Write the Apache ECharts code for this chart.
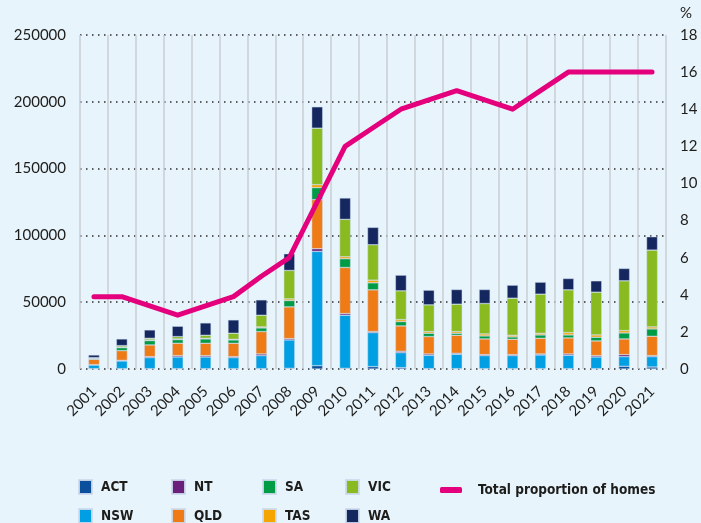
<!DOCTYPE html>
<html>
<head>
<meta charset="utf-8">
<script src="https://cdn.jsdelivr.net/npm/echarts@6/dist/echarts.min.js"></script>
<style>
  html, body { margin: 0; padding: 0; background: #e8f4fc; }
  #chart { width: 701px; height: 523px; }
</style>
</head>
<body>
<div id="chart"></div>
<script>
// data
const years = ['2001','2002','2003','2004','2005','2006','2007','2008','2009','2010','2011',
  '2012','2013','2014','2015','2016','2017','2018','2019','2020','2021'];
const act = [250, 250, 250, 250, 250, 250, 250, 500, 2500, 500, 1750, 1000, 250, 250, 250, 250, 250, 250, 250, 2000, 1500];
const nsw = [2750, 5750, 8250, 8750, 8750, 8250, 9750, 21250, 85500, 39750, 25500, 11250, 10000, 10750, 9750, 9750, 10250, 10000, 8750, 7250, 7750];
const nt = [250, 500, 750, 1000, 1000, 750, 1250, 1000, 2000, 1250, 750, 1000, 1000, 750, 750, 750, 750, 1000, 1000, 1500, 750];
const qld = [4000, 7250, 8750, 9250, 9250, 10000, 16750, 23750, 36750, 34500, 31250, 19000, 13000, 13500, 11750, 11500, 11750, 12000, 11000, 11750, 14500];
const sa = [500, 2250, 3250, 2750, 3250, 2500, 2750, 4750, 9000, 6500, 5250, 3250, 2500, 1500, 2250, 1750, 2500, 2250, 2750, 4500, 5500];
const tas = [250, 500, 500, 500, 500, 500, 750, 1250, 2250, 1500, 2000, 1500, 1250, 1250, 1500, 1250, 1250, 1750, 1750, 1750, 1500];
const vic = [500, 1000, 1250, 1750, 2250, 4500, 8750, 21250, 42250, 28000, 26500, 21500, 20000, 20500, 22750, 27750, 29250, 32000, 32000, 37250, 57500];
const wa = [2000, 5000, 6250, 7750, 9250, 10000, 11500, 12500, 16000, 16000, 13000, 11750, 11000, 11000, 10500, 9750, 9000, 8500, 8500, 9250, 10000];
const proportion = [3.9, 3.9, 3.4, 2.9, 3.4, 3.9, 5.0, 6.0, 9.0, 12, 13, 14, 14.5, 15, 14.5, 14, 15, 16, 16, 16, 16];

const states = [
  { name: 'ACT', data: act, color: '#0b4f9c' },
  { name: 'NSW', data: nsw, color: '#009fe3' },
  { name: 'NT', data: nt, color: '#6a207a' },
  { name: 'QLD', data: qld, color: '#ef7b17' },
  { name: 'SA', data: sa, color: '#009b45' },
  { name: 'TAS', data: tas, color: '#f5a500' },
  { name: 'VIC', data: vic, color: '#89bb20' },
  { name: 'WA', data: wa, color: '#15275f' }
];
const lineName = 'Total proportion of homes';

const font = 'Lato, "Open Sans", sans-serif';
const legendFont = '"Liberation Sans Narrow", "DejaVu Sans Condensed", Roboto, sans-serif';

// one legend per column, two rows each
function legendCol(names, left, isLine) {
  return {
    orient: 'vertical',
    left: left,
    top: isLine ? 483 : 479,
    height: 80,
    padding: 0,
    itemWidth: isLine ? 22 : 13,
    itemHeight: isLine ? 6 : 14,
    itemGap: 13,
    icon: isLine ? 'roundRect' : 'rect',
    selectedMode: false,
    textStyle: {
      fontFamily: legendFont, fontSize: 13.5, fontWeight: 'bold', color: '#1d1d1b',
      lineHeight: 14,
      padding: [0, 0, 0, isLine ? 11 : 4]
    },
    data: names
  };
}

const series = states.map(function (s) {
  return {
    name: s.name,
    type: 'bar',
    stack: 'homes',
    barWidth: 11,
    itemStyle: { color: s.color, borderColor: 'rgba(205,220,238,0.9)', borderWidth: 0.5 },
    data: s.data
  };
});
series.push({
  name: lineName,
  type: 'line',
  yAxisIndex: 1,
  showSymbol: false,
  z: 5,
  itemStyle: { color: '#e4007d' },
  lineStyle: { color: '#e4007d', width: 5, cap: 'round', join: 'round' },
  data: proportion
});

const chart = echarts.init(document.getElementById('chart'));
chart.setOption({
  backgroundColor: '#e8f4fc',
  animation: false,
  textStyle: { fontFamily: font },
  grid: { left: 80, right: 35, top: 35, bottom: 154 },
  legend: [
    legendCol(['ACT', 'NSW'], 78),
    legendCol(['NT', 'QLD'], 171),
    legendCol(['SA', 'TAS'], 262),
    legendCol(['VIC', 'WA'], 345),
    legendCol([lineName], 440, true)
  ],
  xAxis: {
    type: 'category',
    data: years,
    axisLine: { show: false },
    axisTick: { show: false },
    axisLabel: { rotate: 45, margin: 20, fontSize: 15, color: '#1d1d1b', fontFamily: font },
    splitLine: { show: true, lineStyle: { color: '#c9ced3', width: 1.5 } }
  },
  yAxis: [
    {
      type: 'value',
      min: 0, max: 250000, interval: 50000,
      axisLine: { show: false },
      axisTick: { show: false },
      axisLabel: {
        margin: 14, fontSize: 15, color: '#1d1d1b', fontFamily: font,
        formatter: function (v) { return String(v); }
      },
      splitLine: { lineStyle: { color: '#2b2b2b', width: 1.5, type: [1.5, 4.5] } }
    },
    {
      type: 'value',
      position: 'right',
      min: 0, max: 18, interval: 2,
      name: '%',
      nameLocation: 'end',
      nameGap: 14,
      nameTextStyle: { align: 'left', padding: [0, 0, 0, 14], fontSize: 15, color: '#1d1d1b', fontFamily: font },
      axisLine: { show: false },
      axisTick: { show: false },
      axisLabel: { margin: 14, fontSize: 15, color: '#1d1d1b', fontFamily: font },
      splitLine: { show: false }
    }
  ],
  series: series
});
</script>
</body>
</html>
